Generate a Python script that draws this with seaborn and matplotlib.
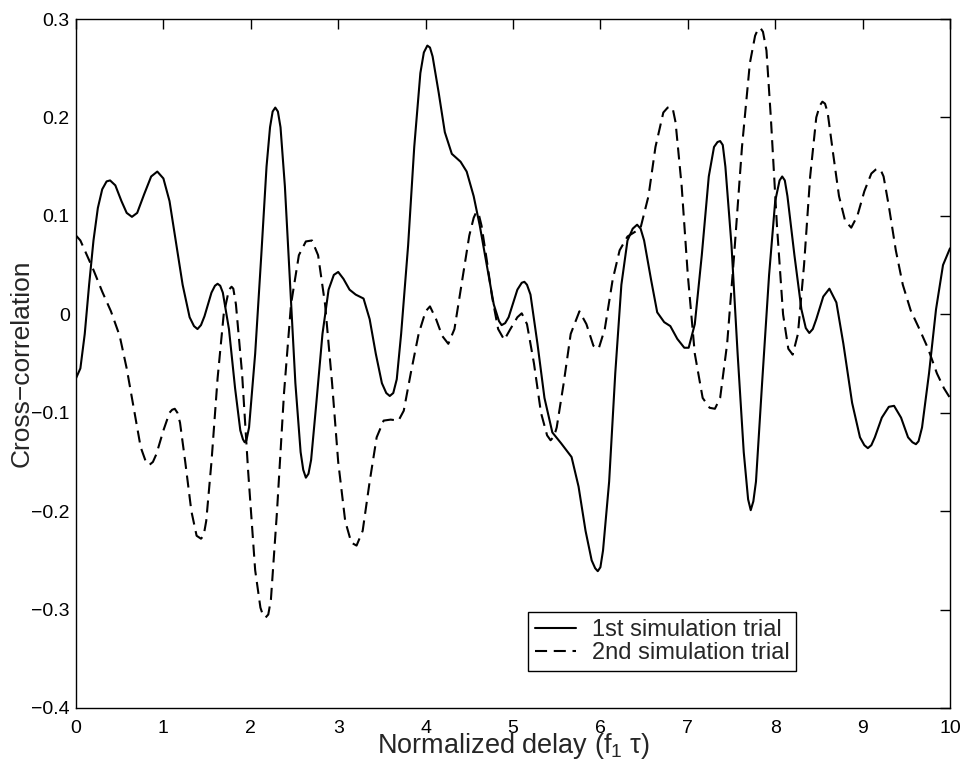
import numpy as np
import pandas as pd
import matplotlib
matplotlib.use("Agg")
import matplotlib.pyplot as plt
from matplotlib.lines import Line2D
import seaborn as sns

# ---- data ----
x1 = [0.00, 0.05, 0.10, 0.15, 0.20, 0.25, 0.30, 0.35, 0.39, 0.45, 0.52, 0.58, 0.64, 0.70, 0.78, 0.86, 0.93,
      1.00, 1.07, 1.14, 1.22, 1.30, 1.35, 1.39, 1.43, 1.47, 1.55, 1.59, 1.62, 1.65, 1.68, 1.75, 1.82, 1.88, 1.91, 1.93, 1.95, 1.98,
      2.05, 2.12, 2.18, 2.22, 2.25, 2.28, 2.31, 2.34, 2.39, 2.45, 2.51, 2.57, 2.60, 2.63, 2.66, 2.69, 2.75, 2.82, 2.89, 2.95,
      3.00, 3.06, 3.13, 3.20, 3.29, 3.36, 3.43, 3.50, 3.55, 3.59, 3.63, 3.67, 3.72, 3.80, 3.87, 3.94,
      3.98, 4.02, 4.05, 4.08, 4.15, 4.22, 4.30, 4.40, 4.47, 4.55, 4.62, 4.70, 4.78, 4.84, 4.87, 4.91, 4.95,
      5.05, 5.10, 5.13, 5.16, 5.20, 5.28, 5.36, 5.45, 5.55, 5.67, 5.75, 5.83, 5.90, 5.94, 5.97,
      6.00, 6.03, 6.10, 6.17, 6.24, 6.31, 6.37, 6.42, 6.46, 6.50, 6.58, 6.65, 6.73, 6.80, 6.88, 6.96,
      7.01, 7.08, 7.16, 7.24, 7.30, 7.34, 7.37, 7.40, 7.43, 7.50, 7.57, 7.64, 7.69, 7.72, 7.75, 7.78, 7.85, 7.93,
      8.00, 8.05, 8.08, 8.11, 8.14, 8.22, 8.30, 8.35, 8.39, 8.43, 8.47, 8.55, 8.62, 8.70, 8.78, 8.88, 8.97, 9.02,
      9.06, 9.10, 9.14, 9.22, 9.30, 9.36, 9.44, 9.52, 9.57, 9.61, 9.64, 9.68, 9.76, 9.84, 9.92, 10.00]
y1 = [-0.065, -0.055, -0.020, 0.030, 0.075, 0.108, 0.127, 0.135, 0.136, 0.131, 0.115, 0.103, 0.099, 0.103, 0.122, 0.140, 0.145,
      0.138, 0.115, 0.075, 0.030, -0.003, -0.012, -0.015, -0.011, -0.002, 0.022, 0.029, 0.031, 0.029, 0.022, -0.015, -0.075, -0.118, -0.127, -0.130, -0.128, -0.115,
      -0.040, 0.060, 0.150, 0.190, 0.206, 0.210, 0.206, 0.190, 0.130, 0.030, -0.070, -0.140, -0.158, -0.166, -0.162, -0.148, -0.090, -0.020, 0.025, 0.040,
      0.043, 0.036, 0.025, 0.020, 0.016, -0.005, -0.040, -0.070, -0.080, -0.083, -0.080, -0.066, -0.020, 0.070, 0.170, 0.245,
      0.266, 0.273, 0.271, 0.262, 0.225, 0.185, 0.163, 0.155, 0.145, 0.120, 0.090, 0.050, 0.010, -0.007, -0.011, -0.009, -0.003,
      0.025, 0.032, 0.033, 0.030, 0.020, -0.030, -0.085, -0.120, -0.131, -0.145, -0.175, -0.220, -0.250, -0.258, -0.261,
      -0.257, -0.240, -0.170, -0.060, 0.030, 0.075, 0.087, 0.091, 0.087, 0.075, 0.035, 0.002, -0.008, -0.012, -0.025, -0.034,
      -0.034, -0.010, 0.060, 0.140, 0.170, 0.175, 0.176, 0.172, 0.150, 0.070, -0.040, -0.140, -0.188, -0.199, -0.190, -0.170, -0.070, 0.040,
      0.115, 0.136, 0.140, 0.136, 0.120, 0.060, 0.005, -0.014, -0.019, -0.015, -0.005, 0.018, 0.026, 0.012, -0.030, -0.090, -0.125, -0.133,
      -0.136, -0.133, -0.125, -0.105, -0.094, -0.093, -0.105, -0.125, -0.130, -0.132, -0.129, -0.115, -0.060, 0.005, 0.050, 0.067]

x2 = [0.00, 0.05, 0.10, 0.20, 0.30, 0.40, 0.50, 0.58, 0.66, 0.74, 0.80, 0.84, 0.88, 0.92,
      1.00, 1.07, 1.10, 1.13, 1.16, 1.19, 1.25, 1.32, 1.38, 1.43, 1.46, 1.49, 1.55, 1.62, 1.69, 1.75, 1.78, 1.80, 1.83, 1.90, 1.97,
      2.05, 2.11, 2.14, 2.17, 2.20, 2.23, 2.30, 2.38, 2.46, 2.55, 2.63, 2.70, 2.77, 2.85, 2.93,
      3.00, 3.08, 3.15, 3.21, 3.28, 3.36, 3.44, 3.52, 3.60, 3.69, 3.75, 3.83, 3.92,
      4.00, 4.05, 4.12, 4.19, 4.26, 4.33, 4.41, 4.50, 4.55, 4.58, 4.61, 4.64, 4.70, 4.76, 4.83, 4.90, 4.97,
      5.05, 5.10, 5.16, 5.24, 5.32, 5.39, 5.43, 5.47, 5.50, 5.58, 5.66, 5.76, 5.84, 5.92, 5.98,
      6.05, 6.14, 6.22, 6.31, 6.40, 6.46, 6.55, 6.63, 6.72, 6.77, 6.80, 6.83, 6.86, 6.93,
      7.00, 7.08, 7.17, 7.25, 7.31, 7.37, 7.45, 7.53, 7.62, 7.71, 7.77, 7.80, 7.83, 7.86, 7.90, 7.95,
      8.02, 8.09, 8.15, 8.20, 8.26, 8.33, 8.40, 8.47, 8.51, 8.54, 8.57, 8.60, 8.66, 8.73, 8.80, 8.87, 8.94,
      9.02, 9.10, 9.15, 9.18, 9.21, 9.24, 9.30, 9.38, 9.46, 9.55, 9.65, 9.75, 9.85, 9.93, 10.00]
y2 = [0.080, 0.075, 0.065, 0.045, 0.023, 0.003, -0.022, -0.055, -0.095, -0.135, -0.150, -0.153, -0.150, -0.142,
      -0.118, -0.100, -0.097, -0.096, -0.100, -0.110, -0.150, -0.200, -0.225, -0.228, -0.225, -0.210, -0.150, -0.065, 0.000, 0.025, 0.028, 0.026, 0.010, -0.060, -0.160,
      -0.260, -0.298, -0.306, -0.308, -0.305, -0.290, -0.200, -0.080, 0.010, 0.060, 0.074, 0.075, 0.060, 0.010, -0.070,
      -0.150, -0.210, -0.232, -0.235, -0.220, -0.170, -0.125, -0.108, -0.107, -0.108, -0.098, -0.060, -0.020,
      0.003, 0.008, -0.005, -0.022, -0.030, -0.015, 0.030, 0.080, 0.098, 0.104, 0.101, 0.090, 0.055, 0.018, -0.015, -0.026, -0.015,
      -0.003, 0.001, -0.010, -0.050, -0.100, -0.123, -0.128, -0.124, -0.115, -0.070, -0.020, 0.003, -0.010, -0.032, -0.035,
      -0.015, 0.035, 0.065, 0.079, 0.084, 0.088, 0.120, 0.170, 0.205, 0.210, 0.211, 0.208, 0.195, 0.130,
      0.040, -0.040, -0.085, -0.095, -0.096, -0.085, -0.030, 0.060, 0.170, 0.255, 0.283, 0.289, 0.291, 0.287, 0.268, 0.200,
      0.090, 0.000, -0.035, -0.041, -0.020, 0.050, 0.140, 0.200, 0.212, 0.216, 0.214, 0.205, 0.165, 0.120, 0.095, 0.088, 0.100,
      0.125, 0.143, 0.147, 0.148, 0.146, 0.140, 0.110, 0.065, 0.030, 0.004, -0.015, -0.035, -0.060, -0.075, -0.085]

series_names = ["1st simulation trial", "2nd simulation trial"]
x_ticks = [0, 1, 2, 3, 4, 5, 6, 7, 8, 9, 10]
y_ticks = [-0.4, -0.3, -0.2, -0.1, 0, 0.1, 0.2, 0.3]
y_tick_labels = ["\u22120.4", "\u22120.3", "\u22120.2", "\u22120.1", "0", "0.1", "0.2", "0.3"]

df = pd.concat([
    pd.DataFrame({"x": x1, "y": y1, "trial": series_names[0]}),
    pd.DataFrame({"x": x2, "y": y2, "trial": series_names[1]}),
], ignore_index=True)

sns.set_style("white")
plt.rcParams["font.family"] = ["Liberation Sans", "DejaVu Sans"]
plt.rcParams["mathtext.fontset"] = "custom"
plt.rcParams["mathtext.rm"] = "Liberation Sans"
plt.rcParams["mathtext.it"] = "Liberation Sans"
plt.rcParams["mathtext.bf"] = "Liberation Sans"

DASH = (5.8, 3.2)

fig = plt.figure(figsize=(9.68, 7.69), dpi=100)
ax = fig.add_axes([76 / 968, 1 - 708 / 769, (950 - 76) / 968, (708 - 19) / 769])

sns.lineplot(data=df, x="x", y="y", style="trial", color="black", linewidth=1.5,
             dashes={series_names[0]: "", series_names[1]: DASH},
             sort=False, estimator=None, ax=ax, legend=False)

ax.set_xlim(0, 10)
ax.set_ylim(-0.4, 0.3)
ax.set_xticks(x_ticks)
ax.set_xticklabels([str(t) for t in x_ticks])
ax.set_yticks(y_ticks)
ax.set_yticklabels(y_tick_labels)
ax.tick_params(direction="in", length=7, width=1, colors="black", labelsize=14,
               top=True, right=True)
ax.tick_params(axis="x", pad=8.5)
ax.tick_params(axis="y", pad=4.5)
for s in ax.spines.values():
    s.set_color("black")
    s.set_linewidth(1.0)

ax.set_xlabel(r"Normalized delay (f$_{1}$ τ)", fontsize=19.5, labelpad=-4.5)
ax.set_ylabel("Cross\u2212correlation", fontsize=19, labelpad=-2)

handles = [Line2D([], [], color="black", lw=1.5),
           Line2D([], [], color="black", lw=1.5, dashes=DASH)]
leg = ax.legend(handles, series_names, loc="upper left", bbox_to_anchor=(0.517, 0.139),
                borderaxespad=0, fontsize=17, frameon=True, fancybox=False,
                edgecolor="black", framealpha=1, handlelength=1.75, handletextpad=0.65,
                labelspacing=0.02, borderpad=0.3)
leg.get_frame().set_linewidth(1.0)

fig.savefig("out.png", dpi=100)
